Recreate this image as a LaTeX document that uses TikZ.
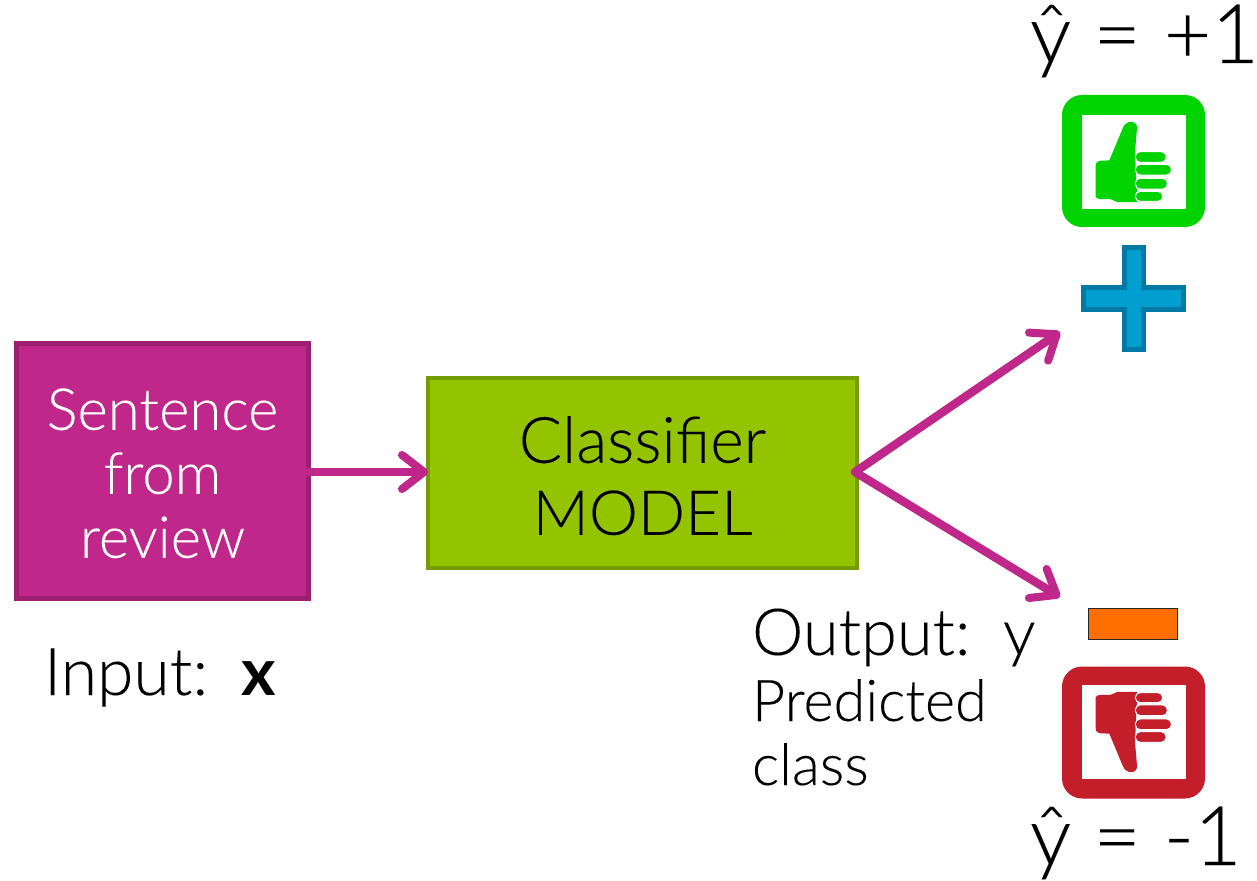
\documentclass[tikz,border=0pt]{standalone}
\usepackage{fontspec}
\setmainfont[FakeBold=0.12]{Lato Light}
\newfontfamily\boldx{Lato Bold}
\usetikzlibrary{arrows.meta}
\definecolor{mag}{HTML}{C0278B}
\definecolor{magd}{HTML}{9C1F72}
\definecolor{lime}{HTML}{94C400}
\definecolor{limed}{HTML}{759C00}
\definecolor{thumbg}{HTML}{00D400}
\definecolor{thumbr}{HTML}{C41E2A}
\definecolor{plusf}{HTML}{009FD0}
\definecolor{plusd}{HTML}{0079A5}
\definecolor{orng}{HTML}{FF6F00}
\newcommand{\thumbicon}[1]{%
  \fill[#1] (197,590) -- (197,497) .. controls (197,486) and (205,482) .. (215,482) -- (238,481) -- (278,385)
    .. controls (288,358) and (323,360) .. (321,385) -- (315,455) -- (322,606) -- (262,606) -- (240,597) -- (212,597) .. controls (203,597) and (197,595) .. (197,590) -- cycle;
  \foreach \a/\b/\c in {455/408/487, 493/424/525, 535/412/567, 574/398/604}
    \draw[fill=#1,draw=white,line width=0.5pt,rounded corners=2.4pt]
      (316,\a) rectangle (\b,\c);
}
\tikzset{
  every node/.style={inner sep=0pt,outer sep=0pt},
  link/.style={draw=mag,line width=4.2pt,line cap=round,-{Straight Barb[length=11pt,width=17pt,line width=4pt,round]}},
  lbl/.style={anchor=base west,text=black},
  btext/.style={align=center,font=\fontsize{29}{32}\selectfont},
  frameg/.style={rounded corners=10pt,minimum width=71.5pt,minimum height=66pt},
  hole/.style={fill=white,minimum width=52pt,minimum height=47pt}
}
\begin{document}
\begin{tikzpicture}[x=0.5pt,y=-0.5pt]
\useasboundingbox (0,0) rectangle (1257,881);
\node[draw=magd,fill=mag,line width=2.5pt,minimum width=146pt,minimum height=127.5pt,text=white,btext] (src) at (162.5,471) {\rule{0pt}{23pt}Sentence\\from\\review};
\node[draw=limed,fill=lime,line width=2pt,minimum width=214.5pt,minimum height=95pt,align=center,font=\fontsize{32}{36}\selectfont] (clf) at (642.5,473) {\rule{0pt}{26pt}Classifier\\\fontsize{31}{36}\selectfont MODEL};
\coordinate (up) at (1060,332);
\coordinate (down) at (1060,597);
\coordinate (fork) at (855,472);
\draw[link] (src.east |- 0,472) -- (clf.west |- 0,472);
\draw[link] (fork) -- (up);
\draw[link] (fork) -- (down);
% plus
\draw[draw=plusd,fill=plusf,line width=2.5pt]
  (1124.5,247.5) -- (1143,247.5) -- (1143,287.5) -- (1183.5,287.5) -- (1183.5,310) -- (1143,310) -- (1143,350) -- (1124.5,350) -- (1124.5,310) -- (1083.5,310) -- (1083.5,287.5) -- (1124.5,287.5) -- cycle;
% minus
\node[draw=black!85,fill=orng,line width=0.7pt,minimum width=44.5pt,minimum height=15.5pt] (minus) at (1133,624) {};
% thumbs
\node[fill=thumbg,frameg] (gframe) at (1133.5,161) {};
\node[hole] (ghole) at (1134,162) {};
\begin{scope}[shift={(1030,0)},x=0.16667pt,y=-0.16667pt]
\thumbicon{thumbg}
\end{scope}
\node[fill=thumbr,frameg] (rframe) at (1133.5,732.5) {};
\node[hole] (rhole) at (1134,732) {};
\begin{scope}[shift={(1030,894)},x=0.16667pt,y=0.16667pt]
\thumbicon{thumbr}
\end{scope}
% labels
\node[lbl,font=\fontsize{41}{44}\selectfont] (yplus) at (1030,63) {ŷ\hspace{0.27em}=\hspace{0.28em}+1};
\node[lbl,font=\fontsize{41}{44}\selectfont] (yminus) at (1030,865) {ŷ\hspace{0.27em}=\hspace{0.28em}-1};
\node[lbl,font=\fontsize{33}{34}\selectfont] (inp) at (44,695) {Input:\hspace{0.5em}{\boldx x}};
\node[lbl,font=\fontsize{32.5}{34}\selectfont] (outp) at (752,655) {Output:\hspace{0.5em}y};
\node[lbl,font=\fontsize{28.8}{32}\selectfont] (pred) at (752,721) {Predicted};
\node[lbl,font=\fontsize{28.8}{32}\selectfont] (cls) at (752,785) {class};
\end{tikzpicture}
\end{document}
